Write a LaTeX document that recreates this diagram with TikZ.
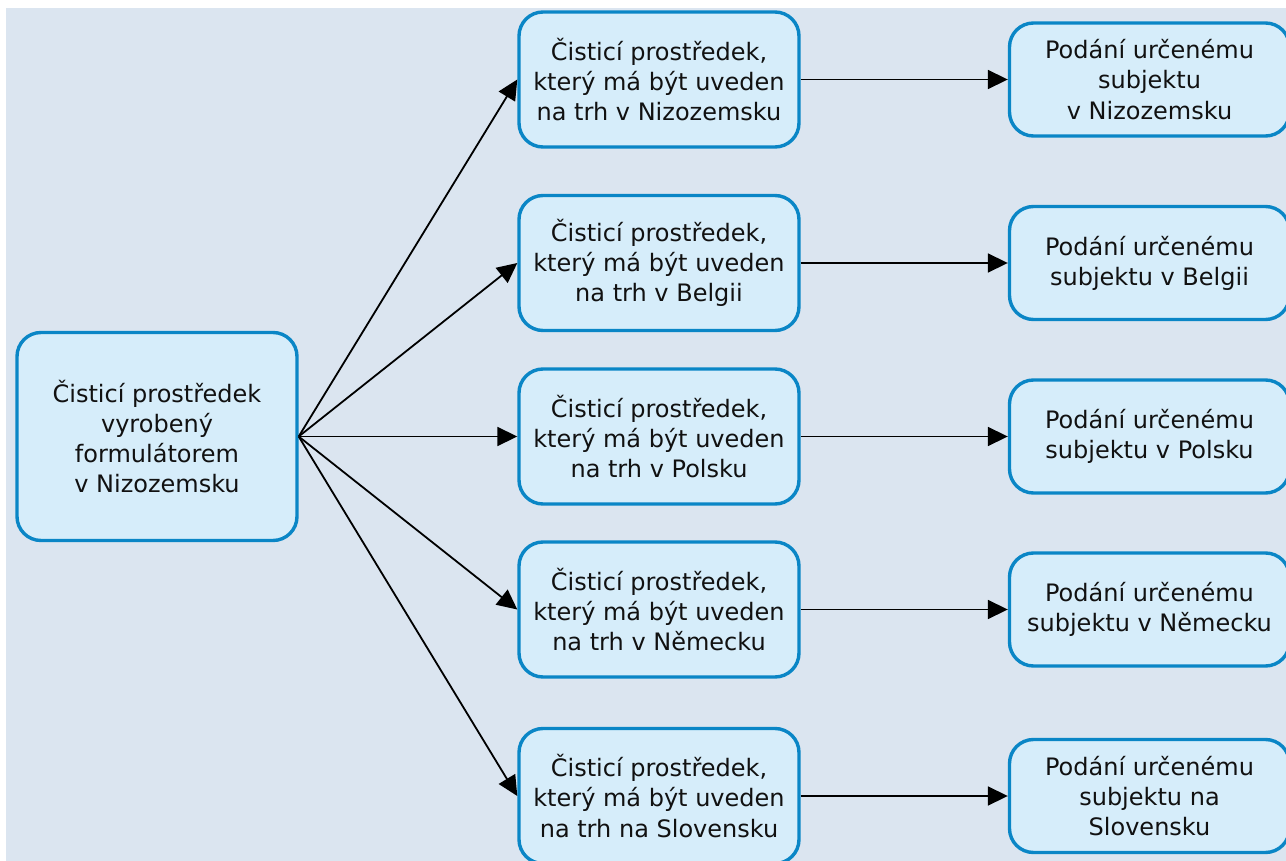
\documentclass[tikz,border=0pt]{standalone}
\usepackage{fontspec}
\setmainfont{DejaVu Sans}
\usetikzlibrary{arrows.meta}
\definecolor{pagebg}{HTML}{DBE5F0}
\definecolor{boxfill}{HTML}{D6EDFA}
\definecolor{boxline}{HTML}{0A86C6}
\definecolor{ink}{HTML}{111111}
\begin{document}
\begin{tikzpicture}[x=1pt,y=-1pt,
  flowbox/.style={draw=boxline, fill=boxfill, line width=3.4pt, rounded corners=24pt,
    minimum width=280pt, align=center, text=ink,
    font=\fontsize{24}{30.2}\selectfont, inner sep=0pt},
  midbox/.style={flowbox, minimum height=135pt},
  endbox/.style={flowbox, minimum height=113pt},
  srcbox/.style={flowbox, minimum height=208pt},
  link/.style={draw=black, line width=1.8pt, -{Triangle[length=20pt,width=19pt]}}]
\useasboundingbox (0,0) rectangle (1286,861);
\clip (0,0) rectangle (1286,861);
\fill[white] (0,0) rectangle (1286,861);
\fill[pagebg] (6,8) rectangle (1290,865);

% source box
\node[srcbox] (src) at (157,436.5) {Čisticí prostředek\\vyrobený\\formulátorem\\v Nizozemsku};

% markets
\node[midbox] (m1) at (659,79.5) {Čisticí prostředek,\\který má být uveden\\na trh v Nizozemsku};
\node[midbox] (m2) at (659,263) {Čisticí prostředek,\\který má být uveden\\na trh v Belgii};
\node[midbox] (m3) at (659,436.5) {Čisticí prostředek,\\který má být uveden\\na trh v Polsku};
\node[midbox] (m4) at (659,609.5) {Čisticí prostředek,\\který má být uveden\\na trh v Německu};
\node[midbox] (m5) at (659,796) {Čisticí prostředek,\\který má být uveden\\na trh na Slovensku};

% submissions
\node[endbox] (e1) at (1149.5,79.5) {Podání určenému\\subjektu\\v Nizozemsku};
\node[endbox] (e2) at (1149.5,263) {Podání určenému\\subjektu v Belgii};
\node[endbox] (e3) at (1149.5,436.5) {Podání určenému\\subjektu v Polsku};
\node[endbox] (e4) at (1149.5,609.5) {Podání určenému\\subjektu v Německu};
\node[endbox] (e5) at (1149.5,796) {Podání určenému\\subjektu na\\Slovensku};

% connectors
\foreach \i in {1,...,5}{
  \draw[link] (src.east) -- (m\i.west);
  \draw[link] (m\i.east) -- (e\i.west);
}
\end{tikzpicture}
\end{document}
